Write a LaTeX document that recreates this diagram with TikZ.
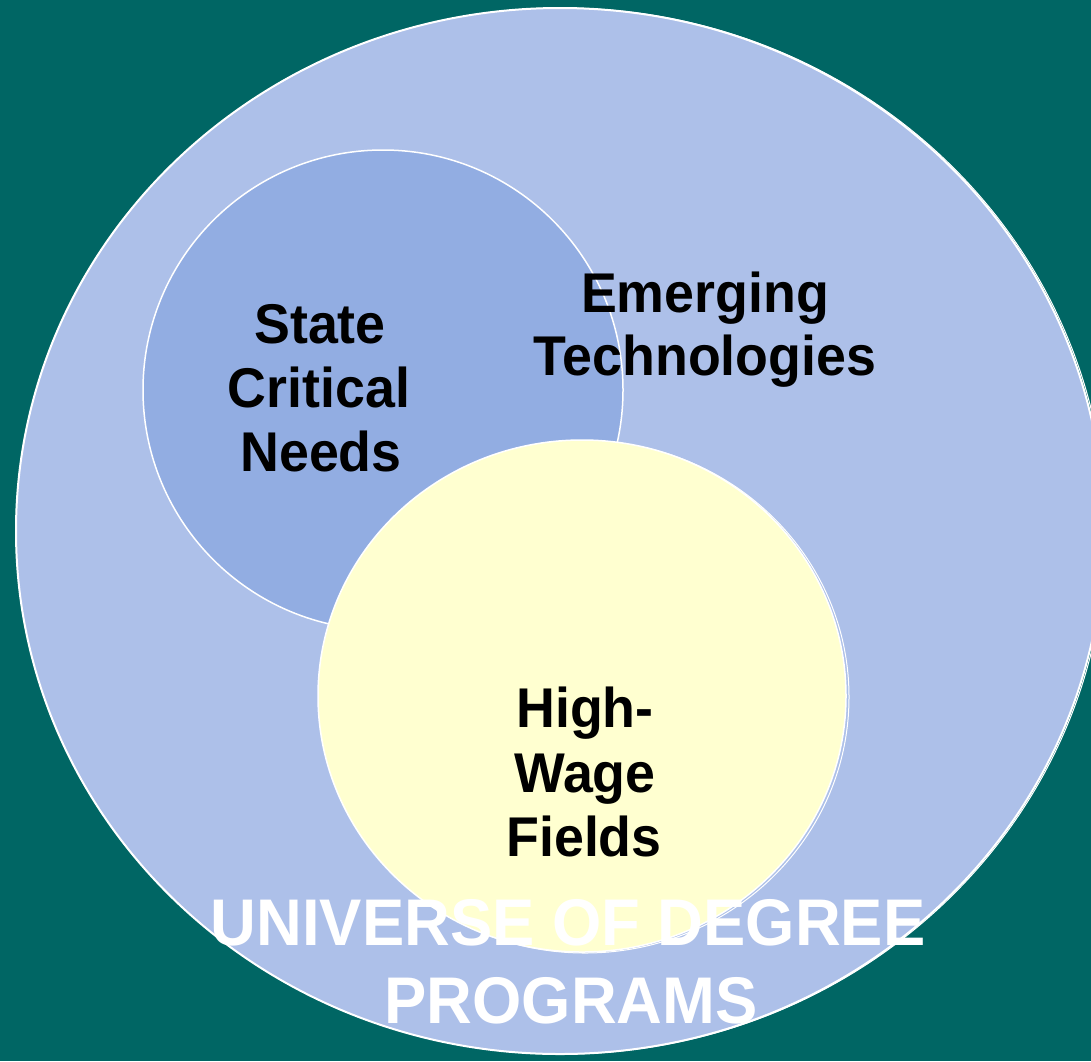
\documentclass[tikz,border=0pt]{standalone}
\usepackage{fontspec}
\setmainfont{Liberation Sans}
\newfontfamily\labfont{Liberation Sans}[FakeStretch=0.96]
\definecolor{bgteal}{RGB}{0,102,100}
\definecolor{univ}{RGB}{173,192,233}
\definecolor{scn}{RGB}{146,173,226}
\definecolor{hwf}{RGB}{255,255,208}
\tikzset{
  lab/.style={font=\labfont\bfseries\fontsize{56}{64}\selectfont, text=black, inner sep=0pt, anchor=base},
  biglab/.style={font=\labfont\bfseries\fontsize{66}{78}\selectfont, text=white, inner sep=0pt, anchor=base},
  rim/.style={draw=white, line width=2pt}
}
\begin{document}
\begin{tikzpicture}[x=1pt,y=-1pt]
\useasboundingbox (0,0) rectangle (1091,1061);
\fill[bgteal] (0,0) rectangle (1091,1061);
\clip (0,0) rectangle (1091,1061);
% universe of degree programs
\coordinate (uc) at (560,531);
\draw[white, line width=1pt] ([xshift=2pt]uc) ellipse [x radius=544, y radius=523];
\fill[univ, rim] (uc) ellipse [x radius=544, y radius=523];
% state critical needs
\coordinate (sc) at (383,390);
\fill[scn, rim, line width=1.5pt] (sc) circle [radius=240];
% high-wage fields
\coordinate (hw) at (582,696);
\draw[white, line width=1pt] ([xshift=3pt,yshift=-1pt]hw) ellipse [x radius=264, y radius=256];
\fill[hwf, rim, line width=1.5pt] (hw) ellipse [x radius=264, y radius=256];
% labels
\node[lab] (s1) at (320,343) {State};
\node[lab] (s2) at (319,407) {Critical};
\node[lab] (s3) at (321,471) {Needs};
\node[lab] (e1) at (705,312) {Emerging};
\node[lab] (e2) at (705,375) {Technologies};
\node[lab] (h1) at (585,727) {High-};
\node[lab] (h2) at (585,792) {Wage};
\node[lab] (h3) at (584,856) {Fields};
\node[biglab] (u1) at (568,945) {UNIVERSE OF DEGREE};
\node[biglab] (u2) at (571,1023) {PROGRAMS};
\end{tikzpicture}
\end{document}
